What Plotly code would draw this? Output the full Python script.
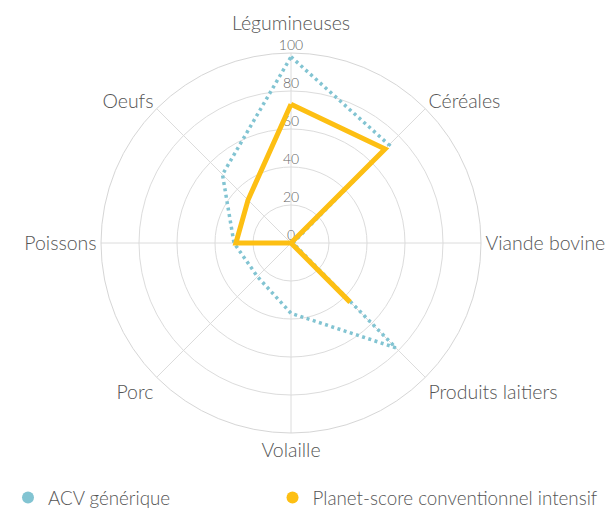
import plotly.graph_objects as go

categories = ["Légumineuses", "Céréales", "Viande bovine", "Produits laitiers",
              "Volaille", "Porc", "Poissons", "Oeufs"]
acv_generique = [98, 73, 1, 78, 37, 25, 30, 51]
planet_score = [73, 70, 0, 44, 0, 0, 29, 32]
series_names = ["ACV générique", "Planet-score conventionnel intensif"]
radial_ticks = [0, 20, 40, 60, 80, 100]

BLUE = "#82c4d2"
ORANGE = "#fdbf13"
TEXT = "#555555"
FONT = "Lato, 'Open Sans', sans-serif"
LABEL_SIZE = 19.5

def closed(v):
    return list(v) + [v[0]]

cats_closed = closed(categories)
# the top category label is written as an annotation, set a little further out
cat_ticktext = ["" if i == 0 else c for i, c in enumerate(categories)]

fig = go.Figure()
# radial tick labels, centred on the vertical axis (drawn beneath the series)
fig.add_trace(go.Scatterpolar(
    r=radial_ticks, theta=[categories[0]] * len(radial_ticks), mode="text",
    text=[str(t) for t in radial_ticks], textposition="top center",
    textfont=dict(size=14, color="#666666", family=FONT),
    showlegend=False, hoverinfo="skip"))
fig.add_trace(go.Scatterpolar(
    r=closed(acv_generique), theta=cats_closed, mode="lines",
    line=dict(color=BLUE, width=3.5, dash="3px,3.5px"),
    name=series_names[0], showlegend=False, hoverinfo="r+theta"))
fig.add_trace(go.Scatterpolar(
    r=closed(planet_score), theta=cats_closed, mode="lines",
    line=dict(color=ORANGE, width=5), name=series_names[1],
    showlegend=False, hoverinfo="r+theta"))
# legend entries (circle symbols), one legend box each
for name, col, lg in zip(series_names, [BLUE, ORANGE], ["legend", "legend2"]):
    fig.add_trace(go.Scatterpolar(r=[None], theta=[categories[0]], mode="markers",
                                  marker=dict(color=col, size=14, symbol="circle"),
                                  name=name, showlegend=True, legend=lg))

legend_common = dict(orientation="h", xref="container", yref="paper",
                     y=-0.1205, xanchor="left", yanchor="top", itemwidth=30,
                     font=dict(size=18.8, color=TEXT, family=FONT, weight=300),
                     itemsizing="constant", bgcolor="rgba(0,0,0,0)")

fig.update_layout(
    width=606, height=504,
    margin=dict(l=93, r=133, t=45, b=79, autoexpand=False),
    paper_bgcolor="white", plot_bgcolor="white",
    font=dict(family=FONT, color=TEXT, size=LABEL_SIZE, weight=300),
    polar=dict(
        bgcolor="white",
        angularaxis=dict(rotation=90, direction="clockwise",
                         categoryorder="array", categoryarray=categories,
                         tickvals=categories, ticktext=cat_ticktext,
                         gridcolor="#dcdcdc", gridwidth=1, linecolor="#d6d6d6",
                         linewidth=1, showline=True, ticks="",
                         tickfont=dict(size=LABEL_SIZE, color=TEXT, weight=300)),
        radialaxis=dict(range=[0, 100], tickvals=radial_ticks, angle=90,
                        showticklabels=False, gridcolor="#dcdcdc", gridwidth=1,
                        showline=False, ticks=""),
    ),
    annotations=[dict(text=categories[0], xref="paper", yref="paper",
                      x=0.5, y=1, xanchor="center", yanchor="middle", yshift=31,
                      showarrow=False,
                      font=dict(size=LABEL_SIZE, color=TEXT, family=FONT, weight=300))],
    legend=dict(x=0.0, **legend_common),
    legend2=dict(x=0.4365, **legend_common),
)

fig.write_html("out.html")
